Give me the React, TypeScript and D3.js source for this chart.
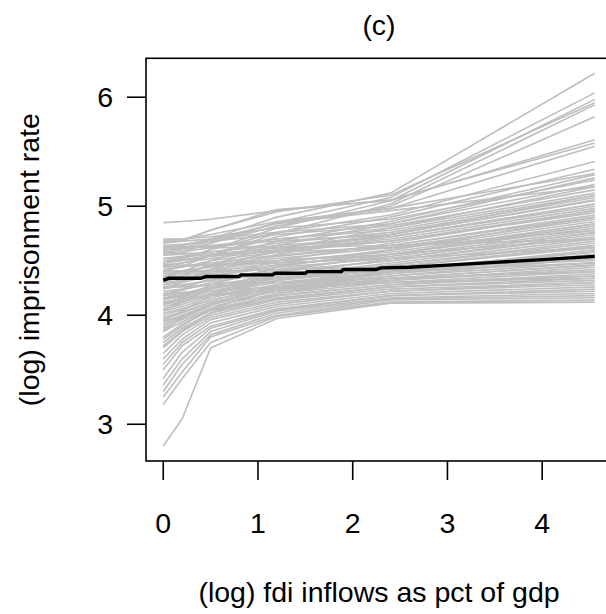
import React from 'react';
import * as d3 from 'd3';

const xKnots = [0, 0.2, 0.5, 1.2, 2.4, 4.555];

// one row per country: (log) imprisonment rate at each knot
const countryCurves: number[][] = [
  [4.62, 4.64, 4.70, 4.90, 5.12, 6.22],
  [4.55, 4.58, 4.66, 4.85, 5.08, 6.04],
  [4.48, 4.52, 4.60, 4.80, 5.05, 5.98],
  [4.66, 4.68, 4.78, 4.95, 5.10, 5.95],
  [4.40, 4.45, 4.55, 4.75, 5.02, 5.93],
  [4.58, 4.60, 4.66, 4.82, 5.00, 5.82],
  [4.85, 4.86, 4.88, 4.96, 5.06, 5.58],
  [4.67, 4.69, 4.78, 4.97, 5.05, 5.61],
  [4.60, 4.62, 4.68, 4.85, 4.98, 5.55],
  [4.50, 4.52, 4.60, 4.76, 4.92, 5.41],
  [4.45, 4.48, 4.55, 4.72, 4.90, 5.34],
  [4.36, 4.40, 4.50, 4.68, 4.86, 5.29],
  [4.30, 4.36, 4.46, 4.64, 4.84, 5.26],
  [4.25, 4.30, 4.42, 4.60, 4.80, 5.18],
  [4.70, 4.70, 4.72, 4.80, 4.88, 5.24],
  [4.68, 4.68, 4.70, 4.76, 4.84, 5.20],
  [4.64, 4.65, 4.68, 4.74, 4.82, 5.15],
  [4.62, 4.62, 4.64, 4.70, 4.78, 5.10],
  [4.60, 4.61, 4.63, 4.68, 4.74, 5.05],
  [4.57, 4.58, 4.62, 4.70, 4.80, 5.12],
  [4.55, 4.56, 4.58, 4.64, 4.72, 5.00],
  [4.52, 4.54, 4.58, 4.66, 4.76, 5.08],
  [4.50, 4.51, 4.54, 4.60, 4.68, 4.96],
  [4.48, 4.50, 4.55, 4.62, 4.72, 5.02],
  [4.46, 4.48, 4.52, 4.60, 4.70, 4.98],
  [4.44, 4.45, 4.48, 4.55, 4.64, 4.90],
  [4.42, 4.44, 4.50, 4.58, 4.68, 4.94],
  [4.40, 4.41, 4.44, 4.52, 4.62, 4.88],
  [4.38, 4.40, 4.45, 4.54, 4.64, 4.92],
  [4.36, 4.38, 4.42, 4.50, 4.58, 4.84],
  [4.34, 4.36, 4.40, 4.48, 4.60, 4.86],
  [4.32, 4.34, 4.38, 4.46, 4.56, 4.80],
  [4.30, 4.32, 4.36, 4.44, 4.52, 4.76],
  [4.28, 4.30, 4.36, 4.46, 4.56, 4.82],
  [4.26, 4.28, 4.32, 4.40, 4.50, 4.72],
  [4.24, 4.27, 4.32, 4.42, 4.54, 4.78],
  [4.22, 4.24, 4.28, 4.36, 4.46, 4.66],
  [4.20, 4.23, 4.30, 4.40, 4.50, 4.74],
  [4.18, 4.20, 4.26, 4.34, 4.44, 4.62],
  [4.16, 4.19, 4.25, 4.36, 4.48, 4.70],
  [4.14, 4.17, 4.22, 4.32, 4.42, 4.58],
  [4.12, 4.15, 4.22, 4.34, 4.46, 4.68],
  [4.10, 4.13, 4.20, 4.30, 4.40, 4.55],
  [4.08, 4.12, 4.20, 4.32, 4.44, 4.64],
  [4.06, 4.10, 4.18, 4.28, 4.38, 4.52],
  [4.04, 4.08, 4.16, 4.28, 4.40, 4.60],
  [4.02, 4.06, 4.14, 4.26, 4.36, 4.48],
  [4.00, 4.05, 4.14, 4.26, 4.38, 4.56],
  [3.98, 4.03, 4.12, 4.24, 4.34, 4.46],
  [3.96, 4.02, 4.12, 4.24, 4.36, 4.52],
  [3.94, 4.00, 4.10, 4.22, 4.32, 4.44],
  [3.92, 3.99, 4.10, 4.22, 4.32, 4.42],
  [3.90, 3.98, 4.08, 4.20, 4.30, 4.40],
  [3.88, 3.96, 4.06, 4.18, 4.28, 4.38],
  [3.85, 3.94, 4.05, 4.18, 4.28, 4.36],
  [3.80, 3.92, 4.04, 4.16, 4.26, 4.34],
  [3.75, 3.88, 4.02, 4.15, 4.26, 4.32],
  [3.70, 3.85, 4.00, 4.14, 4.24, 4.30],
  [3.65, 3.82, 3.98, 4.12, 4.22, 4.28],
  [3.60, 3.78, 3.96, 4.10, 4.22, 4.30],
  [3.55, 3.75, 3.93, 4.08, 4.20, 4.26],
  [3.50, 3.72, 3.90, 4.06, 4.18, 4.24],
  [3.42, 3.66, 3.88, 4.05, 4.18, 4.22],
  [3.36, 3.60, 3.85, 4.04, 4.16, 4.20],
  [3.30, 3.55, 3.82, 4.02, 4.15, 4.18],
  [3.25, 3.48, 3.80, 4.00, 4.14, 4.16],
  [3.18, 3.42, 3.75, 3.99, 4.12, 4.14],
  [2.80, 3.05, 3.70, 3.97, 4.11, 4.12],
  [4.58, 4.57, 4.56, 4.58, 4.62, 4.78],
  [4.64, 4.63, 4.62, 4.62, 4.64, 4.70],
  [4.47, 4.46, 4.46, 4.48, 4.52, 4.62],
  [4.40, 4.40, 4.40, 4.42, 4.44, 4.50],
  [4.33, 4.33, 4.34, 4.36, 4.40, 4.48],
  [4.26, 4.26, 4.28, 4.30, 4.34, 4.40],
  [4.20, 4.21, 4.22, 4.26, 4.30, 4.36],
  [4.12, 4.14, 4.18, 4.24, 4.30, 4.34],
  [4.52, 4.53, 4.56, 4.62, 4.74, 5.06],
  [4.35, 4.38, 4.46, 4.58, 4.74, 5.10],
  [4.28, 4.32, 4.40, 4.56, 4.72, 5.02],
  [4.18, 4.24, 4.34, 4.50, 4.66, 4.96],
  [4.10, 4.16, 4.28, 4.44, 4.60, 4.90],
  [4.05, 4.12, 4.24, 4.40, 4.56, 4.84],
  [3.95, 4.04, 4.18, 4.36, 4.52, 4.76],
  [4.69, 4.70, 4.74, 4.86, 4.98, 5.30],
  [4.62, 4.64, 4.70, 4.84, 4.96, 5.18],
  [3.86, 3.97, 4.10, 4.28, 4.44, 4.64],
  [3.78, 3.90, 4.06, 4.24, 4.40, 4.58],
  [4.45, 4.45, 4.46, 4.50, 4.56, 4.70],
  [4.15, 4.18, 4.24, 4.34, 4.42, 4.52],
  [3.72, 3.86, 4.02, 4.20, 4.34, 4.46],
];

// average curve (black)
const meanX = [0, 0.06, 0.4, 0.45, 0.8, 0.82, 1.15, 1.18, 1.5, 1.52, 1.88, 1.9, 2.25, 2.3, 2.6, 3.0, 3.5, 4.0, 4.555];
const meanY = [4.32, 4.34, 4.34, 4.355, 4.355, 4.37, 4.37, 4.385, 4.385, 4.40, 4.40, 4.42, 4.42, 4.435, 4.44, 4.46, 4.485, 4.51, 4.54];

const xTicks = [0, 1, 2, 3, 4];
const yTicks = [3, 4, 5, 6];

const W = 606;
const H = 614;
const plot = { left: 146, right: 612, top: 58.3, bottom: 461 };
const font = '"Liberation Sans", Arial, Helvetica, sans-serif';
const fs = 28.5;

export default function App() {
  // R style 4% padding around the data range
  const x = d3.scaleLinear().domain([-0.182, 4.737]).range([plot.left, plot.right]);
  const y = d3.scaleLinear().domain([2.663, 6.357]).range([plot.bottom, plot.top]);

  const line = d3
    .line<[number, number]>()
    .x((d) => x(d[0]))
    .y((d) => y(d[1]));

  const midX = (plot.left + plot.right) / 2;
  const midY = (plot.top + plot.bottom) / 2;

  return (
    <svg
      width={W}
      height={H}
      style={{ position: 'absolute', left: 0, top: 0, background: '#fff' }}
      fontFamily={font}
    >
      <rect x={0} y={0} width={W} height={H} fill="#fff" />

      <g fill="none" stroke="#BEBEBE" strokeWidth={1.6} strokeLinejoin="round">
        {countryCurves.map((vals, i) => (
          <path key={i} d={line(xKnots.map((k, j) => [k, vals[j]]))!} />
        ))}
      </g>

      <path
        d={line(meanX.map((k, j) => [k, meanY[j]]))!}
        fill="none"
        stroke="#000"
        strokeWidth={3.4}
        strokeLinejoin="round"
      />

      <rect
        x={plot.left}
        y={plot.top}
        width={plot.right - plot.left}
        height={plot.bottom - plot.top}
        fill="none"
        stroke="#000"
        strokeWidth={1.6}
      />

      {/* x axis */}
      <g>
        {xTicks.map((t) => (
          <g key={t}>
            <line x1={x(t)} x2={x(t)} y1={plot.bottom} y2={plot.bottom + 19} stroke="#000" strokeWidth={1.6} />
            <text x={x(t)} y={533} textAnchor="middle" fontSize={fs}>
              {t}
            </text>
          </g>
        ))}
      </g>

      {/* y axis */}
      <g>
        {yTicks.map((t) => (
          <g key={t}>
            <line x1={plot.left} x2={plot.left - 19} y1={y(t)} y2={y(t)} stroke="#000" strokeWidth={1.6} />
            <text x={113} y={y(t) + 10.2} textAnchor="end" fontSize={fs}>
              {t}
            </text>
          </g>
        ))}
      </g>

      <text x={midX} y={35} textAnchor="middle" fontSize={fs}>
        (c)
      </text>
      <text x={midX} y={601.5} textAnchor="middle" fontSize={fs}>
        (log) fdi inflows as pct of gdp
      </text>
      <text
        transform={`translate(38.5,${midY}) rotate(-90)`}
        textAnchor="middle"
        fontSize={fs}
      >
        (log) imprisonment rate
      </text>
    </svg>
  );
}
